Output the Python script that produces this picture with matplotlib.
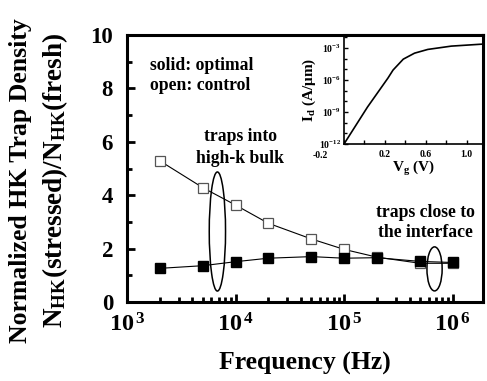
import numpy as np
import matplotlib
matplotlib.use("Agg")
import matplotlib.pyplot as plt
from matplotlib.patches import Ellipse
from matplotlib.ticker import FixedLocator, NullFormatter, LogLocator

plt.rcParams['font.family'] = ['Liberation Serif', 'DejaVu Serif']
plt.rcParams['font.weight'] = 'bold'
plt.rcParams['mathtext.fontset'] = 'custom'
plt.rcParams['mathtext.rm'] = 'Liberation Serif:bold'
plt.rcParams['mathtext.it'] = 'Liberation Serif:bold'
plt.rcParams['mathtext.bf'] = 'Liberation Serif:bold'

# ---- data ----
freq = [2e3, 5e3, 1e4, 2e4, 5e4, 1e5, 2e5, 5e5, 1e6]
control = [5.29, 4.28, 3.63, 2.95, 2.36, 1.97, 1.68, 1.45, 1.45]   # open
optimal = [1.26, 1.36, 1.51, 1.64, 1.70, 1.64, 1.66, 1.52, 1.48]   # solid

vg = [-0.2, 0.03, 0.23, 0.28, 0.38, 0.49, 0.62, 0.85, 1.16]
log_id = [-12.0, -8.54, -5.83, -5.08, -4.06, -3.5, -3.15, -2.84, -2.65]

x_ticks = [1e3, 1e4, 1e5, 1e6]
x_ticklabels = ['$10^{\\,3}$', '$10^{\\,4}$', '$10^{\\,5}$', '$10^{\\,6}$']
y_ticks = [0, 2, 4, 6, 8, 10]

inset_xticks = [-0.2, 0.0, 0.2, 0.4, 0.6, 0.8, 1.0]
inset_xticklabels = ['-0.2', '', '0.2', '', '0.6', '', '1.0']
inset_yticks = [1e-12, 1e-9, 1e-6, 1e-3]
inset_yticklabels = ['$10^{-12}$', '$10^{-9}$', '$10^{-6}$', '$10^{-3}$']

# ellipses: (center freq, center value, width in decades, height in data units)
ellipses = [(6.8e3, 2.64, 0.15, 4.46), (6.8e5, 1.24, 0.14, 1.65)]

W, H = 487, 381
fig = plt.figure(figsize=(W / 100, H / 100), dpi=100)
ax = fig.add_axes([127 / W, 1 - 302 / H, 356 / W, 267 / H])

ax.plot(freq, control, color='black', lw=0.8, zorder=2)
ax.plot(freq, control, ls='none', marker='s', ms=7, mfc='white', mec='#555555', mew=0.9, zorder=3)
ax.plot(freq, optimal, color='black', lw=0.8, zorder=4)
ax.plot(freq, optimal, ls='none', marker='s', ms=7, mfc='black', mec='black', zorder=5)

ax.set_xscale('log')
ax.set_xlim(1e3, 1.9e6)
ax.set_ylim(0, 10)
ax.set_xticks(x_ticks)
ax.set_xticklabels(x_ticklabels)
ax.xaxis.set_minor_locator(LogLocator(base=10, subs=np.arange(2, 10)))
ax.xaxis.set_minor_formatter(NullFormatter())
ax.set_yticks(y_ticks)
ax.set_yticks([1, 3, 5, 7, 9], minor=True)

for s in ax.spines.values():
    s.set_linewidth(2.2)
ax.tick_params(axis='both', which='major', direction='in', width=2, length=6)
ax.tick_params(axis='both', which='minor', direction='in', width=2, length=3.5)
ax.tick_params(axis='x', which='major', labelsize=17.5, pad=8)
ax.tick_params(axis='y', which='major', labelsize=16.5, pad=10)
ax.tick_params(top=False, right=False)

ax.set_xlabel('Frequency (Hz)', fontsize=18.5, fontweight='bold', labelpad=11)

fig.text(21 / W, 1 - 181 / H, 'Normalized HK Trap Density', rotation=90,
         ha='center', va='center', fontsize=18.5, fontweight='bold')
fig.text(55 / W, 1 - 180 / H, r'N$_{\mathrm{HK}}$(stressed)/N$_{\mathrm{HK}}$(fresh)', rotation=90,
         ha='center', va='center', fontsize=19.5, fontweight='bold')

ax.text(150 / W, 1 - 65 / H, 'solid: optimal', transform=fig.transFigure, ha='left', va='center',
        fontsize=12.7, fontweight='bold')
ax.text(150 / W, 1 - 85 / H, 'open: control', transform=fig.transFigure, ha='left', va='center',
        fontsize=12.7, fontweight='bold')
ax.text(240 / W, 1 - 137 / H, 'traps into', transform=fig.transFigure, ha='center', va='center',
        fontsize=12.7, fontweight='bold')
ax.text(240 / W, 1 - 158 / H, 'high-k bulk', transform=fig.transFigure, ha='center', va='center',
        fontsize=12.7, fontweight='bold')
ax.text(425 / W, 1 - 212 / H, 'traps close to', transform=fig.transFigure, ha='center', va='center',
        fontsize=12.7, fontweight='bold')
ax.text(425 / W, 1 - 233 / H, 'the interface', transform=fig.transFigure, ha='center', va='center',
        fontsize=12.7, fontweight='bold')

to_axes = ax.transData + ax.transAxes.inverted()
ndec = np.log10(1.9e6 / 1e3)
for fc, yc, wd, ht in ellipses:
    cx, cy = to_axes.transform((fc, yc))
    e = Ellipse((cx, cy), wd / ndec, ht / 10.0, transform=ax.transAxes,
                fill=False, ec='black', lw=1.1, zorder=6)
    ax.add_patch(e)

# ---- inset ----
ins = fig.add_axes([344 / W, 1 - 144 / H, 139 / W, 109 / H])
ins.plot(vg, [10 ** v for v in log_id], color='black', lw=1.2)
ins.set_yscale('log')
ins.set_xlim(-0.2, 1.16)
ins.set_ylim(1e-12, 10 ** -1.8)
ins.set_xticks(inset_xticks)
ins.set_xticklabels([''] + inset_xticklabels[1:])
ins.set_yticks(inset_yticks)
ins.set_yticklabels(inset_yticklabels)
ins.yaxis.set_minor_locator(FixedLocator([10.0 ** k for k in range(-12, -1)]))
ins.yaxis.set_minor_formatter(NullFormatter())
ins.tick_params(axis='both', which='major', direction='in', width=1, length=3, labelsize=7, pad=4)
ins.tick_params(axis='both', which='minor', direction='in', width=1, length=2)
ins.tick_params(axis='y', pad=2)
# first inset x label sits lower-left of the axis corner, as in the original
ins.annotate(inset_xticklabels[0], xy=(inset_xticks[0], 0), xycoords=('data', 'axes fraction'),
             xytext=(-17, -8.5), textcoords='offset points', ha='center', va='center',
             fontsize=7, fontweight='bold')
ins.spines['left'].set_linewidth(1.2)
ins.spines['bottom'].set_linewidth(1.2)
ins.spines['top'].set_linewidth(2.2)
ins.spines['right'].set_linewidth(2.2)
ins.set_xlabel('V$_{\\mathrm{g}}$ (V)', fontsize=11, fontweight='bold', labelpad=0)
ins.set_ylabel('I$_{\\mathrm{d}}$ (A/\u03bcm)', fontsize=11, fontweight='bold', labelpad=1)

fig.savefig('out.png', dpi=100)
